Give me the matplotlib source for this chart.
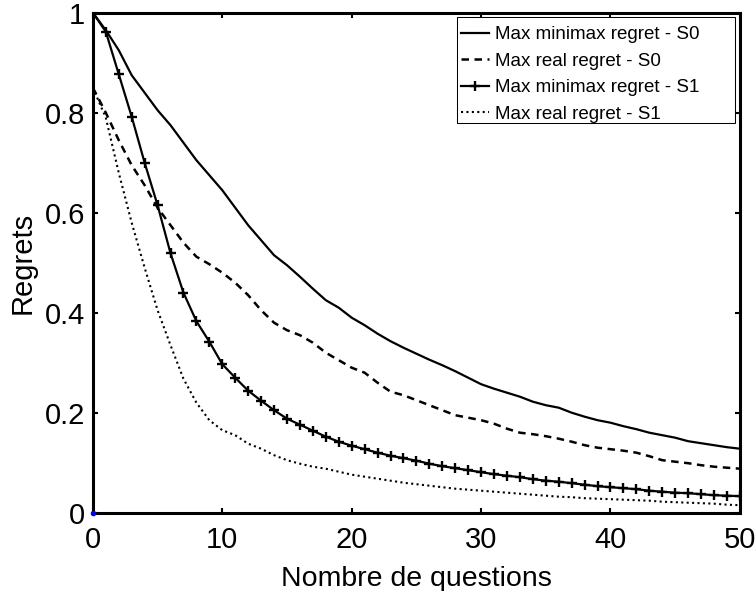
import matplotlib
import matplotlib.pyplot as plt
from matplotlib.patches import Rectangle

matplotlib.use('Agg')

# number of questions 0..50
questions = list(range(51))

minimax_s0 = [1.0, 0.965, 0.925, 0.875, 0.84, 0.805, 0.775, 0.74, 0.705, 0.675,
              0.645, 0.61, 0.575, 0.545, 0.515, 0.495, 0.472, 0.448, 0.425, 0.41,
              0.39, 0.375, 0.358, 0.343, 0.33, 0.318, 0.306, 0.295, 0.283, 0.27,
              0.257, 0.248, 0.24, 0.232, 0.222, 0.215, 0.21, 0.2, 0.192, 0.185,
              0.18, 0.173, 0.167, 0.16, 0.155, 0.15, 0.143, 0.139, 0.135, 0.131,
              0.128]

real_s0 = [0.85, 0.8, 0.745, 0.695, 0.655, 0.61, 0.575, 0.54, 0.512, 0.497,
           0.48, 0.46, 0.435, 0.405, 0.38, 0.365, 0.355, 0.34, 0.32, 0.305,
           0.29, 0.28, 0.26, 0.242, 0.235, 0.225, 0.215, 0.205, 0.195, 0.19,
           0.185, 0.178, 0.168, 0.16, 0.157, 0.153, 0.148, 0.142, 0.135, 0.13,
           0.127, 0.124, 0.12, 0.113, 0.105, 0.102, 0.099, 0.095, 0.092, 0.09,
           0.088]

minimax_s1 = [1.0, 0.962, 0.877, 0.792, 0.70, 0.615, 0.519, 0.44, 0.383, 0.342,
              0.297, 0.27, 0.244, 0.224, 0.205, 0.188, 0.176, 0.164, 0.152, 0.142,
              0.134, 0.127, 0.12, 0.114, 0.109, 0.104, 0.098, 0.093, 0.089, 0.085,
              0.081, 0.077, 0.074, 0.071, 0.067, 0.064, 0.062, 0.059, 0.056, 0.053,
              0.051, 0.049, 0.047, 0.044, 0.042, 0.040, 0.039, 0.037, 0.035, 0.034,
              0.033]

real_s1 = [0.85, 0.79, 0.68, 0.58, 0.49, 0.405, 0.335, 0.268, 0.22, 0.185,
           0.165, 0.155, 0.138, 0.128, 0.115, 0.105, 0.098, 0.092, 0.088, 0.082,
           0.076, 0.072, 0.068, 0.064, 0.06, 0.057, 0.054, 0.051, 0.048, 0.046,
           0.044, 0.042, 0.04, 0.038, 0.036, 0.034, 0.032, 0.031, 0.029, 0.028,
           0.027, 0.026, 0.025, 0.024, 0.022, 0.021, 0.02, 0.019, 0.018, 0.016,
           0.015]

labels = ['Max minimax regret - S0', 'Max real regret - S0',
          'Max minimax regret - S1', 'Max real regret - S1']

plt.rcParams['font.family'] = ['Liberation Sans', 'DejaVu Sans']

fig = plt.figure(figsize=(7.55, 5.91), dpi=100)
ax = fig.add_axes([0.123, 0.1325, 0.857, 0.846])

ax.plot(questions, minimax_s0, '-', color='black', lw=1.6, label=labels[0])
ax.plot(questions, real_s0, '--', color='black', lw=1.8, dashes=(3, 2.2), label=labels[1])
ax.plot(questions, minimax_s1, '-', color='black', lw=1.6, marker='+', ms=6.5, mew=1.7,
        label=labels[2])
ax.plot(questions, real_s1, ':', color='black', lw=1.5, dashes=(1, 1.6), label=labels[3])
ax.plot([0], [0], 'o', color='blue', ms=3, clip_on=False, zorder=5)

ax.set_xlim(0, 50)
ax.set_ylim(0, 1)
ax.set_xticks([0, 10, 20, 30, 40, 50])
ax.set_yticks([0, 0.2, 0.4, 0.6, 0.8, 1])
ax.set_yticklabels(['0', '0.2', '0.4', '0.6', '0.8', '1'])
ax.tick_params(direction='in', top=True, right=True, length=3.5, width=1.5,
               labelsize=21)
ax.tick_params(axis='x', pad=9.5)
ax.tick_params(axis='y', pad=5.5)
for s in ax.spines.values():
    s.set_linewidth(2.2)

ax.set_xlabel('Nombre de questions', fontsize=20.5, labelpad=9)
ax.set_ylabel('Regrets', fontsize=21, labelpad=6)

# legend box drawn by hand (MATLAB style, wide right margin)
box = Rectangle((0.605, 0.7924), 0.3686, 0.1794, transform=fig.transFigure,
                facecolor='white', edgecolor='black', lw=0.75, zorder=4,
                clip_on=False)
ax.add_patch(box)
leg = ax.legend(loc='upper left', bbox_to_anchor=(461 / 755, 1 - 26 / 591),
                bbox_transform=fig.transFigure, fontsize=13.5, handlelength=1.5,
                handletextpad=0.3, borderpad=0, labelspacing=0.5, borderaxespad=0,
                frameon=False)
leg.set_zorder(5)

fig.savefig('out.png', dpi=100)
